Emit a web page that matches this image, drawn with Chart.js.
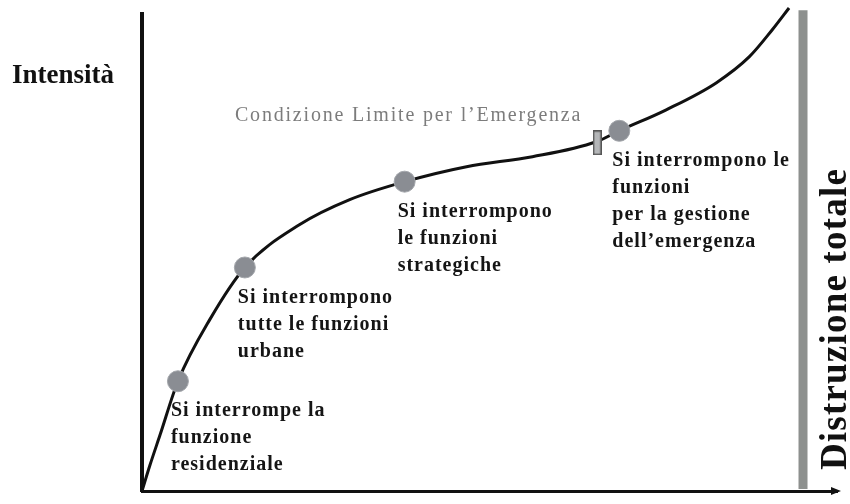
<!DOCTYPE html>
<html>
<head>
<meta charset="utf-8">
<style>
html,body{margin:0;padding:0;background:#fff;}
#wrap{width:850px;height:504px;position:relative;}
</style>
<script src="https://cdn.jsdelivr.net/npm/chart.js@4.4.1/dist/chart.umd.min.js"></script>
</head>
<body>
<div id="wrap"><canvas id="c" width="850" height="504"></canvas></div>
<script>
// Curve of intensity (x = progression, y = intensity), 0..100 scales
const curveX = [0, 1.15, 2.59, 5.17, 9.77, 14.80, 22.70, 29.89, 37.79, 46.70, 56.18, 65.37, 68.68, 75.43, 82.61, 87.36, 90.66, 93.10];
const curveY = [0, 5.44, 11.72, 23.01, 35.98, 46.86, 55.86, 61.09, 64.85, 67.99, 70.08, 73.22, 75.52, 79.92, 85.56, 91.00, 96.65, 101.26];

// Thresholds on the curve
const pointX = [5.17, 14.80, 37.79, 68.68];
const pointY = [23.01, 46.86, 64.85, 75.52];
const pointLabels = [
  ["Si interrompe la", "funzione", "residenziale"],
  ["Si interrompono", "tutte le funzioni", "urbane"],
  ["Si interrompono", "le funzioni", "strategiche"],
  ["Si interrompono le", "funzioni", "per la gestione", "dell\u2019emergenza"]
];

// Limit condition for emergency
const limitX = [65.5];
const limitY = [73.0];
const limitLabel = "Condizione Limite per l\u2019Emergenza";

// Total destruction line
const destructionX = [95.11, 95.11];
const destructionY = [0.4, 100.8];
const destructionLabel = "Distruzione totale";

const yTitle = "Intensit\u00e0";

// marker for limit condition (tall rectangle)
const rectCanvas = document.createElement('canvas');
rectCanvas.width = 9; rectCanvas.height = 25;
(function(){
  const g = rectCanvas.getContext('2d');
  g.fillStyle = '#555';
  g.fillRect(0,0,9,25);
  g.fillStyle = '#b4b6b8';
  g.fillRect(1.5,1.5,6,22);
})();

const toXY = (xs, ys) => xs.map((x,i)=>({x:x, y:ys[i]}));

const textPlugin = {
  id: 'texts',
  afterDatasetsDraw(chart) {
    const ctx = chart.ctx;
    const xs = chart.scales.x, ys = chart.scales.y;
    const ca = chart.chartArea;
    ctx.save();
    // x axis arrow head
    ctx.fillStyle = '#111';
    ctx.beginPath();
    ctx.moveTo(ca.right + 4, ca.bottom);
    ctx.lineTo(ca.right - 6, ca.bottom - 4);
    ctx.lineTo(ca.right - 6, ca.bottom + 4);
    ctx.closePath();
    ctx.fill();

    // point labels
    ctx.fillStyle = '#151515';
    ctx.font = 'bold 20px "Liberation Serif", "Times New Roman", serif';
    ctx.letterSpacing = '1px';
    ctx.textAlign = 'left';
    ctx.textBaseline = 'middle';
    pointLabels.forEach((lines, i) => {
      const px = xs.getPixelForValue(pointX[i]);
      const py = ys.getPixelForValue(pointY[i]);
      lines.forEach((ln, j) => {
        ctx.fillText(ln, px - 7, py + 30 + j * 27);
      });
    });

    // limit label
    ctx.fillStyle = '#7c7c7c';
    ctx.font = '20px "Liberation Serif", "Times New Roman", serif';
    ctx.letterSpacing = '1.8px';
    ctx.textAlign = 'right';
    const lx = xs.getPixelForValue(limitX[0]);
    const ly = ys.getPixelForValue(limitY[0]);
    ctx.fillText(limitLabel, lx - 15, ly - 27);

    // y title
    ctx.fillStyle = '#111';
    ctx.letterSpacing = '0px';
    ctx.font = 'bold 27px "Liberation Serif", "Times New Roman", serif';
    ctx.textAlign = 'left';
    ctx.fillText(yTitle, 12, 76);

    // destruction label (rotated)
    const dx = xs.getPixelForValue(destructionX[0]);
    ctx.translate(dx + 33, 319);
    ctx.rotate(-Math.PI / 2);
    ctx.textAlign = 'center';
    ctx.letterSpacing = '1.2px';
    ctx.font = 'bold 37px "Liberation Serif", "Times New Roman", serif';
    ctx.fillText(destructionLabel, 0, 0);
    ctx.restore();
  }
};

new Chart(document.getElementById('c'), {
  type: 'scatter',
  data: {
    datasets: [
      {
        type: 'line',
        data: toXY(destructionX, destructionY),
        borderColor: '#8d908e',
        borderWidth: 9,
        pointRadius: 0,
        clip: false,
        order: 3
      },
      {
        type: 'line',
        data: toXY(curveX, curveY),
        borderColor: '#111',
        borderWidth: 3,
        pointRadius: 0,
        cubicInterpolationMode: 'monotone',
        clip: false,
        order: 2
      },
      {
        data: toXY(pointX, pointY),
        pointRadius: 10.5,
        backgroundColor: '#8a8d93',
        borderColor: '#a3a6ab',
        borderWidth: 1,
        clip: false,
        order: 1
      },
      {
        data: toXY(limitX, limitY),
        pointStyle: rectCanvas,
        pointRadius: 12,
        clip: false,
        order: 0
      }
    ]
  },
  options: {
    responsive: false,
    animation: false,
    events: [],
    layout: { padding: { left: 142, right: 12, top: 14, bottom: 12 } },
    plugins: { legend: { display: false }, tooltip: { enabled: false } },
    scales: {
      x: {
        type: 'linear', min: 0, max: 100,
        ticks: { display: false },
        grid: { display: false, drawTicks: false },
        border: { display: true, color: '#111', width: 3 },
        afterFit: s => { s.height = 0; }
      },
      y: {
        type: 'linear', min: 0, max: 100,
        ticks: { display: false },
        grid: { display: false, drawTicks: false },
        border: { display: true, color: '#111', width: 4 },
        afterFit: s => { s.width = 0; }
      }
    }
  },
  plugins: [textPlugin]
});
</script>
</body>
</html>
